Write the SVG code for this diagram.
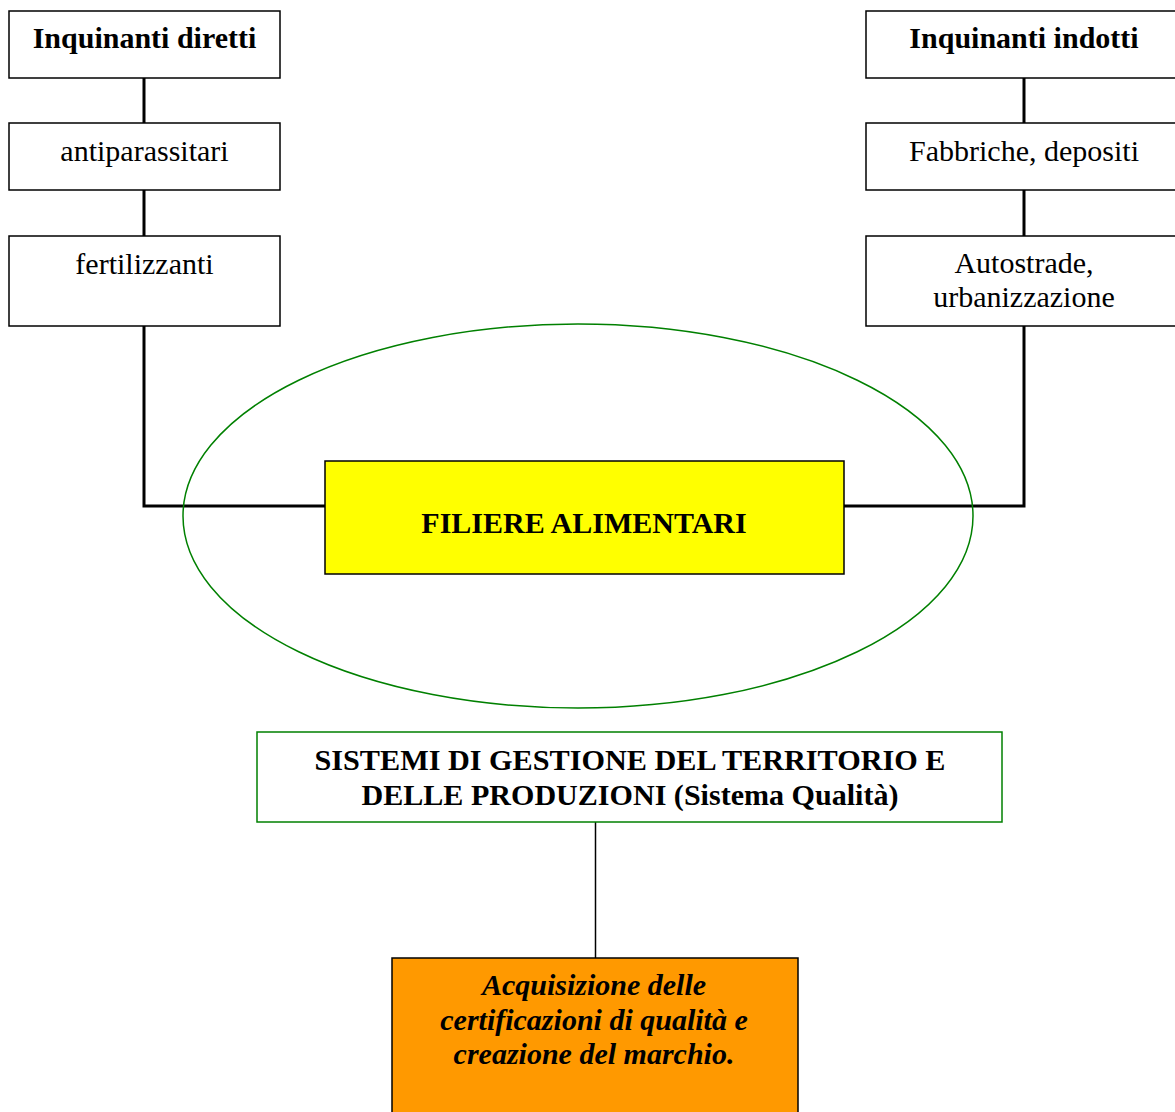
<svg xmlns="http://www.w3.org/2000/svg" width="1175" height="1112" viewBox="0 0 1175 1112">
<style>
.box{fill:#fff;stroke:#000;stroke-width:1.5}
.t{font-family:'Liberation Serif','Times New Roman',Times,serif;font-size:30px;text-anchor:middle;fill:#000}
.b{font-weight:bold}
.i{font-style:italic;font-weight:bold}
.thick{stroke:#000;stroke-width:3;fill:none}
</style>
<rect width="1175" height="1112" fill="#fff"/>
<g id="connectors">
<path class="thick" d="M144 78V123M144 190V236M144 326V506H325"/>
<path class="thick" d="M1024 78V123M1024 190V236M1024 326V506H844"/>
<line x1="595.5" y1="822" x2="595.5" y2="958" stroke="#000" stroke-width="1.5"/>
</g>
<g id="ellipse"><ellipse cx="578" cy="516" rx="395" ry="192" fill="none" stroke="#008000" stroke-width="1.5"/></g>
<g id="n-diretti"><rect class="box" x="9" y="11" width="271" height="67"/><text class="t b" x="144.5" y="48">Inquinanti diretti</text></g>
<g id="n-antiparassitari"><rect class="box" x="9" y="123" width="271" height="67"/><text class="t" x="144.5" y="161">antiparassitari</text></g>
<g id="n-fertilizzanti"><rect class="box" x="9" y="236" width="271" height="90"/><text class="t" x="144.5" y="274">fertilizzanti</text></g>
<g id="n-indotti"><rect class="box" x="866" y="11" width="312" height="67"/><text class="t b" x="1024" y="48">Inquinanti indotti</text></g>
<g id="n-fabbriche"><rect class="box" x="866" y="123" width="312" height="67"/><text class="t" x="1024" y="161">Fabbriche, depositi</text></g>
<g id="n-autostrade"><rect class="box" x="866" y="236" width="312" height="90"/><text class="t" x="1024" y="273">Autostrade,</text><text class="t" x="1024" y="307">urbanizzazione</text></g>
<g id="n-filiere"><rect x="325" y="461" width="519" height="113" fill="#ffff00" stroke="#000" stroke-width="1.5"/><text class="t b" x="584" y="533">FILIERE ALIMENTARI</text></g>
<g id="n-sistemi"><rect x="257" y="732" width="745" height="90" fill="#fff" stroke="#008000" stroke-width="1.5"/><text class="t b" x="630" y="770" textLength="631" lengthAdjust="spacingAndGlyphs">SISTEMI DI GESTIONE DEL TERRITORIO E</text><text class="t b" x="630" y="805" textLength="537" lengthAdjust="spacingAndGlyphs">DELLE PRODUZIONI (Sistema Qualità)</text></g>
<g id="n-acquisizione"><rect x="392" y="958" width="406" height="160" fill="#ff9900" stroke="#000" stroke-width="1.5"/><text class="t i" x="594" y="995">Acquisizione delle</text><text class="t i" x="594" y="1030">certificazioni di qualità e</text><text class="t i" x="594" y="1064">creazione del marchio.</text></g>
</svg>
